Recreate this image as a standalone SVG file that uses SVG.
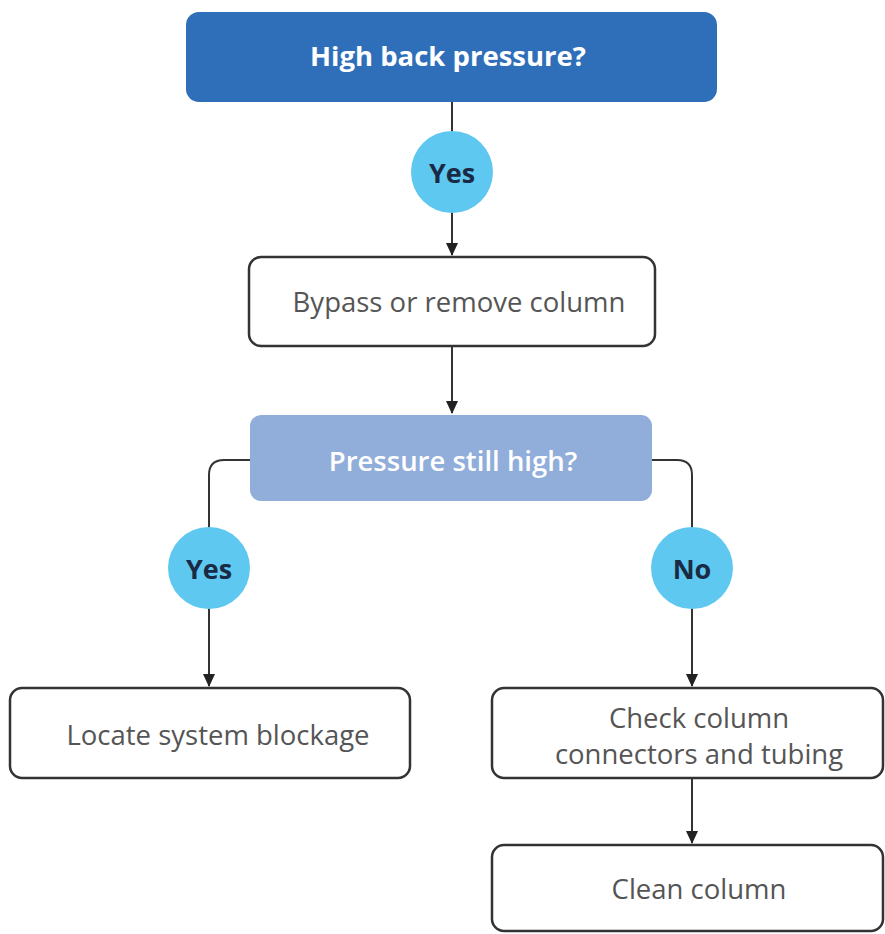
<svg xmlns="http://www.w3.org/2000/svg" width="885" height="934" viewBox="0 0 885 934">
<defs>
<marker id="arr" markerWidth="13" markerHeight="12" refX="12" refY="6" orient="auto" markerUnits="userSpaceOnUse" viewBox="0 0 13 12">
<path d="M0,0 L13,6 L0,12 z" fill="#222"/>
</marker>
</defs>
<style>
.t{font-family:"Open Sans","Liberation Sans",sans-serif;text-anchor:middle;dominant-baseline:central}
.box{fill:#fff;stroke:#333;stroke-width:2.5}
.lbl{font-size:27.5px;fill:#555}
.circ{fill:#5ec8f0}
.ct{font-size:27px;font-weight:bold;fill:#1a2a44}
.ln{fill:none;stroke:#333;stroke-width:2}
</style>
<rect width="885" height="934" fill="#fff"/>
<g id="connectors">
<path class="ln" d="M452,102 V255" marker-end="url(#arr)"/>
<path class="ln" d="M452,346 V413" marker-end="url(#arr)"/>
<path class="ln" d="M250,460 H224 Q209,460 209,475 V686" marker-end="url(#arr)"/>
<path class="ln" d="M652,460 H677 Q692,460 692,475 V686" marker-end="url(#arr)"/>
<path class="ln" d="M692,778 V843" marker-end="url(#arr)"/>
</g>
<g id="n1">
<rect x="186" y="12" width="531" height="90" rx="13" fill="#2f6fba"/>
<text class="t" x="448" y="55" font-size="27.5" font-weight="bold" fill="#fff">High back pressure?</text>
</g>
<g id="c1">
<circle class="circ" cx="452" cy="172" r="41"/>
<text class="t ct" x="452" y="172">Yes</text>
</g>
<g id="n2">
<rect class="box" x="249" y="257" width="406" height="89" rx="12"/>
<text class="t lbl" x="459" y="301">Bypass or remove column</text>
</g>
<g id="n3">
<rect x="250" y="415" width="402" height="86" rx="11" fill="#91aedb"/>
<text class="t" x="453" y="460" font-size="27.5" font-weight="600" fill="#fff">Pressure still high?</text>
</g>
<g id="c2">
<circle class="circ" cx="209" cy="568" r="41"/>
<text class="t ct" x="209" y="568">Yes</text>
</g>
<g id="c3">
<circle class="circ" cx="692" cy="568" r="41"/>
<text class="t ct" x="692" y="568">No</text>
</g>
<g id="n4">
<rect class="box" x="10" y="688" width="400" height="90" rx="12"/>
<text class="t lbl" x="218" y="734">Locate system blockage</text>
</g>
<g id="n5">
<rect class="box" x="492" y="688" width="391" height="90" rx="12"/>
<text class="t lbl" x="699" y="717">Check column</text>
<text class="t lbl" x="699" y="753">connectors and tubing</text>
</g>
<g id="n6">
<rect class="box" x="492" y="845" width="391" height="86" rx="12"/>
<text class="t lbl" x="699" y="888">Clean column</text>
</g>
</svg>
